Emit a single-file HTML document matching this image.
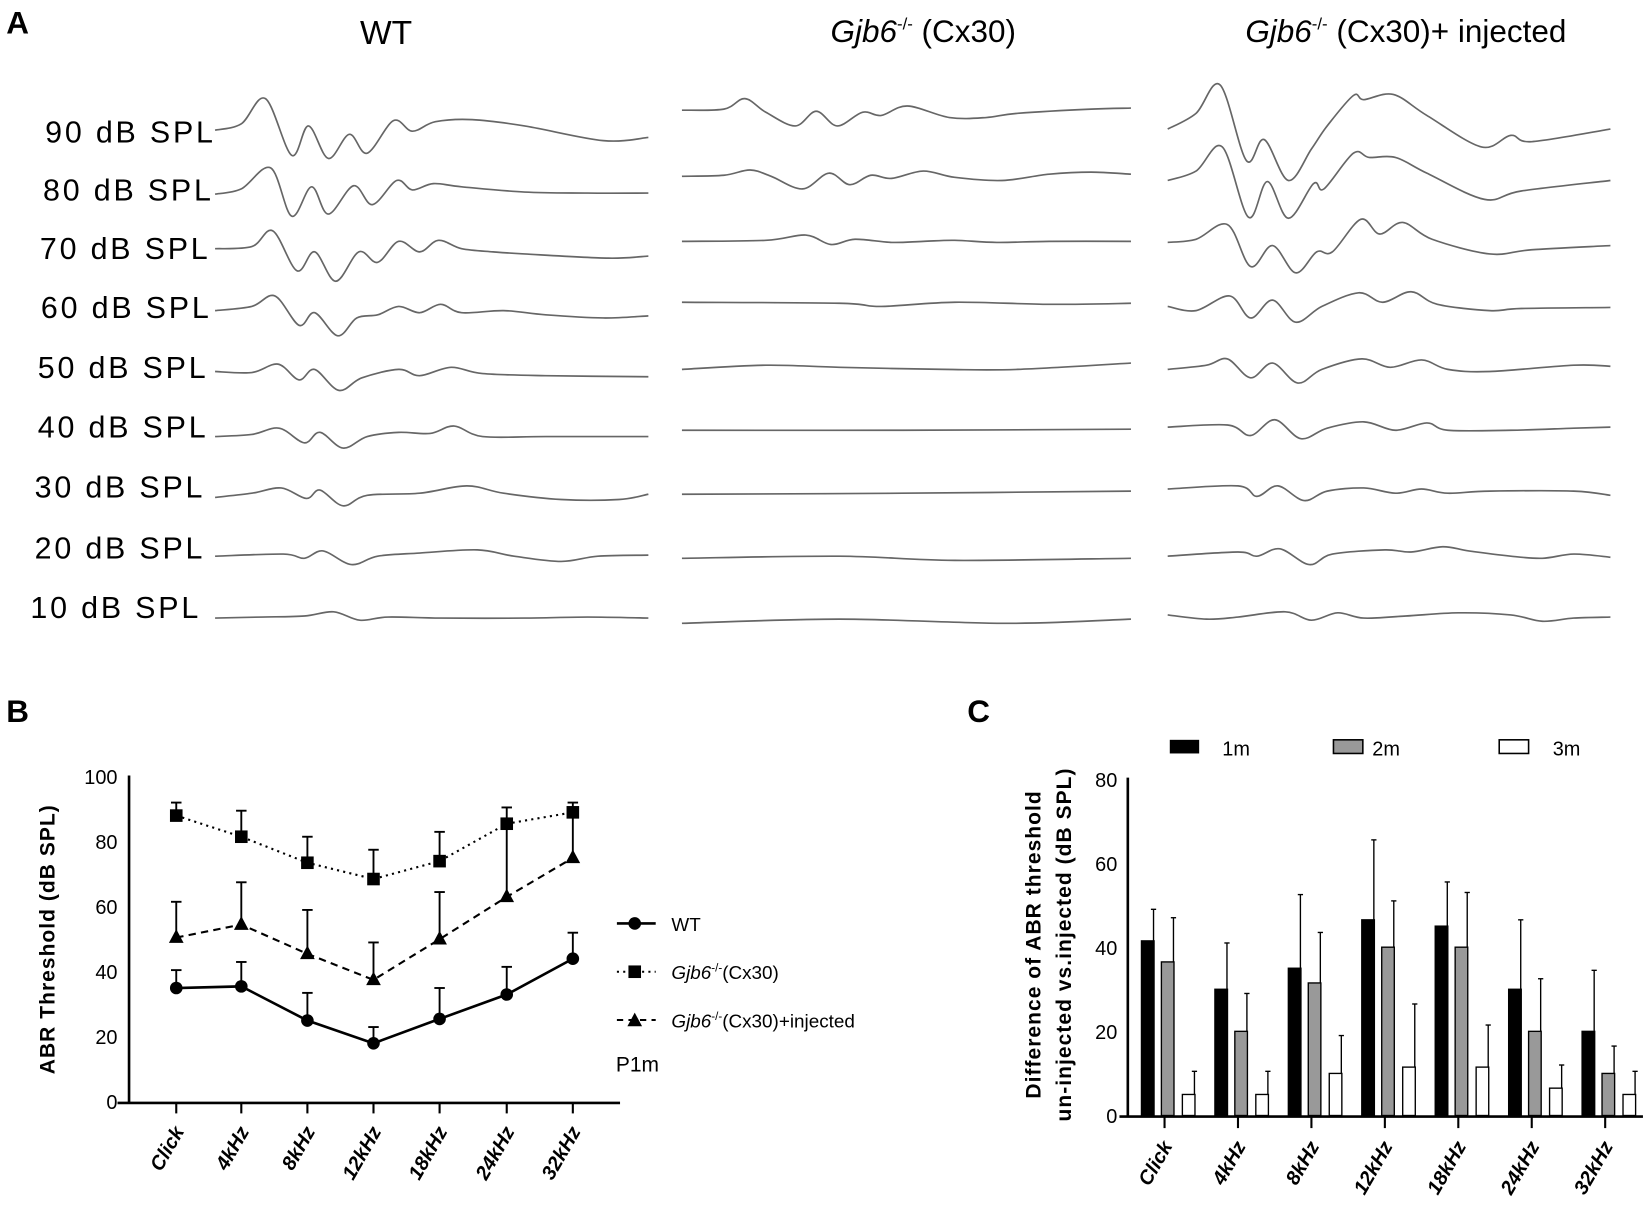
<!DOCTYPE html>
<html><head><meta charset="utf-8"><style>
html,body{margin:0;padding:0;background:#fff}
svg{display:block}
text{font-family:"Liberation Sans",Arial,sans-serif}
</style></head><body>
<svg id="s" width="1644" height="1211" viewBox="0 0 1567 1154" preserveAspectRatio="none" xmlns="http://www.w3.org/2000/svg">
<rect width="1567" height="1154" fill="#fff"/>
<text x="6" y="32" font-size="30" font-weight="bold">A</text>
<text x="368" y="42" font-size="32" text-anchor="middle">WT</text>
<text x="880" y="40" font-size="30" text-anchor="middle"><tspan font-style="italic">Gjb6</tspan><tspan font-size="16" dy="-12">-/-</tspan><tspan dy="12"> (Cx30)</tspan></text>
<text x="1340" y="40" font-size="30" text-anchor="middle"><tspan font-style="italic">Gjb6</tspan><tspan font-size="16" dy="-12">-/-</tspan><tspan dy="12"> (Cx30)+ injected</tspan></text>
<g font-size="29" text-anchor="end">
<text x="203" y="136" textLength="160">90 dB SPL</text>
<text x="201" y="191" textLength="160">80 dB SPL</text>
<text x="198" y="247" textLength="160">70 dB SPL</text>
<text x="199" y="303" textLength="160">60 dB SPL</text>
<text x="196" y="360" textLength="160">50 dB SPL</text>
<text x="196" y="417" textLength="160">40 dB SPL</text>
<text x="193" y="474" textLength="160">30 dB SPL</text>
<text x="193" y="532" textLength="160">20 dB SPL</text>
<text x="189" y="589" textLength="160">10 dB SPL</text>
</g>
<g id="traces" fill="none" stroke="#666" stroke-width="1.6"></g>

<!-- Panel B -->
<text x="6" y="688" font-size="30" font-weight="bold">B</text>
<text transform="translate(52,895) rotate(-90)" font-size="20" font-weight="bold" text-anchor="middle" letter-spacing="1">ABR Threshold (dB SPL)</text>
<g stroke="#000" stroke-width="2.5">
<line x1="123" y1="739" x2="123" y2="1051"/>
<line x1="112" y1="1051" x2="591" y2="1051"/>
</g>
<g id="bt" stroke="#000" stroke-width="2"></g>
<g font-size="19" text-anchor="end">
<text x="112" y="747">100</text><text x="112" y="809">80</text><text x="112" y="871">60</text><text x="112" y="933">40</text><text x="112" y="995">20</text><text x="112" y="1057">0</text>
</g>
<g id="bl" font-size="19" font-weight="bold" font-style="italic" text-anchor="end"></g>
<g id="bdata"></g>
<g>
<line x1="588" y1="880" x2="625" y2="880" stroke="#000" stroke-width="2.5"/><circle cx="605" cy="880" r="6"/>
<text x="640" y="887" font-size="18">WT</text>
<line x1="588" y1="926" x2="625" y2="926" stroke="#000" stroke-width="2" stroke-dasharray="2,4"/><rect x="599" y="920" width="12" height="12"/>
<text x="640" y="933" font-size="18"><tspan font-style="italic">Gjb6</tspan><tspan font-size="11" dy="-7">-/-</tspan><tspan dy="7">(Cx30)</tspan></text>
<line x1="588" y1="972" x2="625" y2="972" stroke="#000" stroke-width="2" stroke-dasharray="6,5"/><polygon points="605,965 612,978 598,978"/>
<text x="640" y="979" font-size="18"><tspan font-style="italic">Gjb6</tspan><tspan font-size="11" dy="-7">-/-</tspan><tspan dy="7">(Cx30)+injected</tspan></text>
<text x="587" y="1021" font-size="20">P1m</text>
</g>

<!-- Panel C -->
<text x="922" y="688" font-size="30" font-weight="bold">C</text>
<text transform="translate(992,900) rotate(-90)" font-size="20" font-weight="bold" text-anchor="middle" letter-spacing="1">Difference of ABR threshold</text>
<text transform="translate(1021,900) rotate(-90)" font-size="20" font-weight="bold" text-anchor="middle" letter-spacing="1">un-injected vs.injected (dB SPL)</text>
<g stroke="#000" stroke-width="2.5">
<line x1="1075" y1="741" x2="1075" y2="1064"/>
<line x1="1067" y1="1064" x2="1566" y2="1064"/>
</g>
<g font-size="19" text-anchor="end">
<text x="1065" y="750">80</text><text x="1065" y="830">60</text><text x="1065" y="910">40</text><text x="1065" y="990">20</text><text x="1065" y="1070">0</text>
</g>
<rect x="1115" y="705" width="28" height="13" fill="#000"/><text x="1165" y="720" font-size="19">1m</text>
<rect x="1271" y="705" width="28" height="13" fill="#999" stroke="#000" stroke-width="1.5"/><text x="1308" y="720" font-size="19">2m</text>
<rect x="1429" y="705" width="28" height="13" fill="#fff" stroke="#000" stroke-width="1.5"/><text x="1480" y="720" font-size="19">3m</text>
<g id="cdata"></g>
<g id="cl" font-size="19" font-weight="bold" font-style="italic" text-anchor="end"></g>
</svg>
<script>
var NS="http://www.w3.org/2000/svg";
function el(p,t,a,txt){var e=document.createElementNS(NS,t);for(var k in a)e.setAttribute(k,a[k]);if(txt)e.textContent=txt;document.getElementById(p).appendChild(e);return e;}
function cr(P){var d="M"+P[0][0]+","+P[0][1];for(var i=0;i<P.length-1;i++){var p0=P[i-1]||P[i],p1=P[i],p2=P[i+1],p3=P[i+2]||p2;
d+=" C"+(p1[0]+(p2[0]-p0[0])/6).toFixed(1)+","+(p1[1]+(p2[1]-p0[1])/6).toFixed(1)+" "+(p2[0]-(p3[0]-p1[0])/6).toFixed(1)+","+(p2[1]-(p3[1]-p1[1])/6).toFixed(1)+" "+p2[0]+","+p2[1];}return d;}
function pts(a){var r=[];for(var i=0;i<a.length;i+=2)r.push([a[i],a[i+1]]);return r;}
var T=[
[205,124,230,118,253,94,278,148,294,120,313,151,333,128,350,146,375,115,393,125,415,116,450,114,500,120,575,134,618,131],
[205,185,230,180,258,160,278,206,297,178,313,204,337,177,355,195,378,172,393,181,413,175,440,178,500,183,560,184,618,184],
[205,237,240,235,260,220,283,258,300,240,320,268,342,240,360,250,380,230,400,240,418,229,440,237,470,240,500,242,580,246,618,244],
[205,296,240,292,262,282,285,310,300,298,322,320,340,303,360,300,380,292,400,298,420,290,440,298,480,296,520,300,575,303,618,301],
[205,354,240,355,265,347,285,362,300,352,323,372,345,360,380,352,400,358,430,350,460,356,520,358,618,359],
[205,416,240,414,266,408,290,422,305,412,327,427,350,416,380,412,410,413,433,406,460,416,520,416,618,416],
[205,474,240,470,268,465,292,475,305,467,327,482,350,472,400,470,445,463,480,470,535,476,590,476,618,471],
[205,530,270,528,290,532,308,525,335,538,360,530,400,527,455,524,490,530,535,535,570,530,618,529],
[205,589,250,588,290,587,318,583,343,591,370,588,420,589,500,589,560,588,618,589],
[650,105,690,104,710,94,730,107,758,120,778,106,798,120,822,107,840,110,865,101,905,112,940,112,970,108,1040,104,1078,103],
[650,168,690,167,715,162,735,168,765,180,790,165,810,176,830,167,850,170,880,163,910,169,955,172,1000,166,1040,164,1078,166],
[650,230,730,229,768,224,792,233,815,228,850,231,880,230,910,229,950,231,1000,230,1078,230],
[650,288,800,289,840,292,910,288,1000,290,1078,289],
[650,352,730,348,800,350,900,352,970,352,1078,346],
[650,410,860,410,1078,409],
[650,471,860,470,1078,468],
[650,532,800,530,910,534,1078,532],
[650,594,800,590,960,594,1078,590],
[1113,123,1140,108,1163,81,1188,153,1205,133,1228,172,1250,142,1265,120,1290,91,1300,95,1328,90,1360,110,1412,140,1440,129,1460,135,1535,123],
[1113,172,1140,163,1165,140,1190,207,1208,173,1228,208,1252,175,1262,180,1290,146,1305,150,1330,150,1360,165,1415,190,1450,182,1535,172],
[1113,231,1140,228,1170,214,1192,254,1213,234,1235,260,1255,240,1270,240,1297,209,1315,223,1337,212,1365,228,1420,242,1460,238,1535,234],
[1113,292,1140,296,1172,282,1192,303,1213,286,1235,307,1260,292,1295,279,1318,288,1345,278,1370,290,1420,296,1450,294,1535,293],
[1113,352,1150,348,1170,342,1192,360,1213,346,1237,365,1260,352,1298,342,1325,350,1355,343,1380,352,1420,354,1500,348,1535,349],
[1113,407,1170,405,1192,415,1215,400,1240,418,1265,408,1300,402,1330,410,1360,403,1380,410,1440,410,1500,408,1535,407],
[1113,466,1180,463,1198,473,1218,463,1243,477,1265,468,1300,465,1330,470,1355,466,1380,470,1420,468,1500,468,1535,472],
[1113,530,1180,526,1198,530,1220,523,1248,538,1270,528,1320,524,1345,526,1375,521,1400,525,1440,530,1470,532,1500,528,1535,531],
[1113,586,1150,590,1180,588,1225,583,1250,591,1275,584,1300,589,1340,587,1390,584,1440,586,1470,592,1500,589,1535,588]];
T.forEach(function(a){el("traces","path",{d:cr(pts(a))});});

var labs=["Click","4kHz","8kHz","12kHz","18kHz","24kHz","32kHz"];
var bx=[168,230,293,356,419,483,546];
function by(v){return 1050-3.1*v;}
bx.forEach(function(x,i){el("bt","line",{x1:x,y1:1051,x2:x,y2:1061});
el("bl","text",{transform:"translate("+(x+8)+",1078) rotate(-60)"},labs[i]);});
var S=[
{v:[88,81.5,73.5,68.5,74,85.5,89],e:[92,89.5,81.5,77.5,83,90.5,92],dash:"2,4",m:"sq"},
{v:[50.5,54.5,45.5,37.5,50,63,75],e:[61.5,67.5,59,49,64.5,85.5,90],dash:"7,5",m:"tri"},
{v:[35,35.5,25,18,25.5,33,44],e:[40.5,43,33.5,23,35,41.5,52],dash:"",m:"c"}];
S.forEach(function(s){
var d="";s.v.forEach(function(v,i){d+=(i?"L":"M")+bx[i]+","+by(v);});
el("bdata","path",{d:d,fill:"none",stroke:"#000","stroke-width":s.m=="c"?2.5:2,"stroke-dasharray":s.dash});
s.v.forEach(function(v,i){var x=bx[i],y=by(v),ye=by(s.e[i]);
el("bdata","line",{x1:x,y1:y,x2:x,y2:ye,stroke:"#000","stroke-width":1.8});
el("bdata","line",{x1:x-5,y1:ye,x2:x+5,y2:ye,stroke:"#000","stroke-width":1.8});
if(s.m=="c")el("bdata","circle",{cx:x,cy:y,r:6});
else if(s.m=="sq")el("bdata","rect",{x:x-6,y:y-6,width:12,height:12});
else el("bdata","polygon",{points:x+","+(y-8)+" "+(x+7)+","+(y+5)+" "+(x-7)+","+(y+5)});
});});

function cy(v){return 1063-4.01*v;}
var C=[
{v:[41.5,30,35,46.5,45,30,20],e:[49,41,52.5,65.5,55.5,46.5,34.5],f:"#000",o:0},
{v:[36.5,20,31.5,40,40,20,10],e:[47,29,43.5,51,53,32.5,16.5],f:"#999",o:19},
{v:[5,5,10,11.5,11.5,6.5,5],e:[10.5,10.5,19,26.5,21.5,12,10.5],f:"#fff",o:39}];
for(var i=0;i<7;i++){var g=1088+70*i;
el("cdata","line",{x1:g+22,y1:1064,x2:g+22,y2:1075,stroke:"#000","stroke-width":2});
el("cl","text",{transform:"translate("+(g+30)+",1092) rotate(-60)"},labs[i]);
C.forEach(function(s){var x=g+s.o,y=cy(s.v[i]),ye=cy(s.e[i]);
el("cdata","line",{x1:x+11.5,y1:y,x2:x+11.5,y2:ye,stroke:"#000","stroke-width":1.3});
el("cdata","line",{x1:x+9,y1:ye,x2:x+14,y2:ye,stroke:"#000","stroke-width":1.3});
el("cdata","rect",{x:x,y:y,width:12,height:1063-y,fill:s.f,stroke:"#000","stroke-width":1.3});
});}
</script>
</body></html>
